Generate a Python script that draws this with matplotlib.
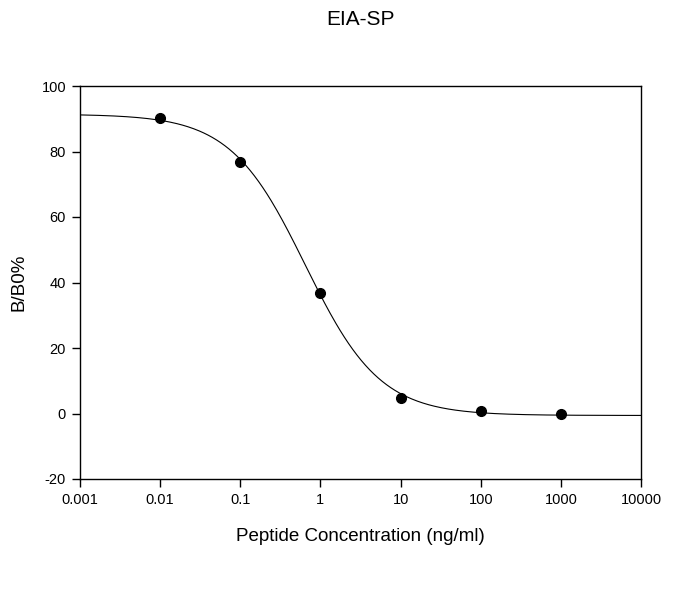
import numpy as np
import matplotlib
matplotlib.use('Agg')
import matplotlib.pyplot as plt
from matplotlib.ticker import FixedLocator, FixedFormatter, NullLocator

plt.rcParams['font.family'] = ['Liberation Sans', 'DejaVu Sans']
plt.rcParams['axes.unicode_minus'] = False

# data
conc = [0.01, 0.1, 1, 10, 100, 1000]
bb0 = [90.1, 76.7, 36.9, 4.7, 0.9, -0.2]
x_ticks = [0.001, 0.01, 0.1, 1, 10, 100, 1000, 10000]
x_tick_labels = ['0.001', '0.01', '0.1', '1', '10', '100', '1000', '10000']
y_ticks = [-20, 0, 20, 40, 60, 80, 100]


# 4-parameter logistic fit: grid over ec50 / hill, top and bottom by linear least squares
def fit_4pl(x, y):
    x = np.asarray(x, float)
    y = np.asarray(y, float)
    best = None
    for lc in np.linspace(-2, 1, 301):
        for h in np.linspace(0.3, 2.5, 221):
            s = 1.0 / (1.0 + (x / 10 ** lc) ** h)
            A = np.column_stack([s, 1 - s])
            coef, *_ = np.linalg.lstsq(A, y, rcond=None)
            err = np.sum((A @ coef - y) ** 2)
            if best is None or err < best[0]:
                best = (err, coef[0], coef[1], 10 ** lc, h)
    return best[1:]


top, bottom, ec50, hill = fit_4pl(conc, bb0)
xs = np.logspace(-3, 4, 400)
ys = bottom + (top - bottom) / (1 + (xs / ec50) ** hill)

fig = plt.figure(figsize=(6.96, 6.14), dpi=100)
ax = fig.add_axes([80 / 696, 1 - 479 / 614, (641 - 80) / 696, (479 - 86) / 614])

ax.plot(xs, ys, color='black', linewidth=0.8)
ax.plot(conc, bb0, 'o', color='black', markersize=7)

ax.set_xscale('log')
ax.set_xlim(0.001, 10000)
ax.set_ylim(-20, 100)
ax.xaxis.set_major_locator(FixedLocator(x_ticks))
ax.xaxis.set_major_formatter(FixedFormatter(x_tick_labels))
ax.xaxis.set_minor_locator(NullLocator())
ax.set_yticks(y_ticks)
ax.tick_params(direction='out', length=6, width=1, labelsize=10.5, pad=4)
for sp in ax.spines.values():
    sp.set_linewidth(1)

ax.set_xlabel('Peptide Concentration (ng/ml)', fontsize=13.5, labelpad=15)
ax.set_ylabel('B/B0%', fontsize=13.5, labelpad=10)
fig.text(361 / 696, 1 - 25 / 614, 'EIA-SP', ha='center', va='baseline', fontsize=15)

fig.savefig('out.png', dpi=100)
